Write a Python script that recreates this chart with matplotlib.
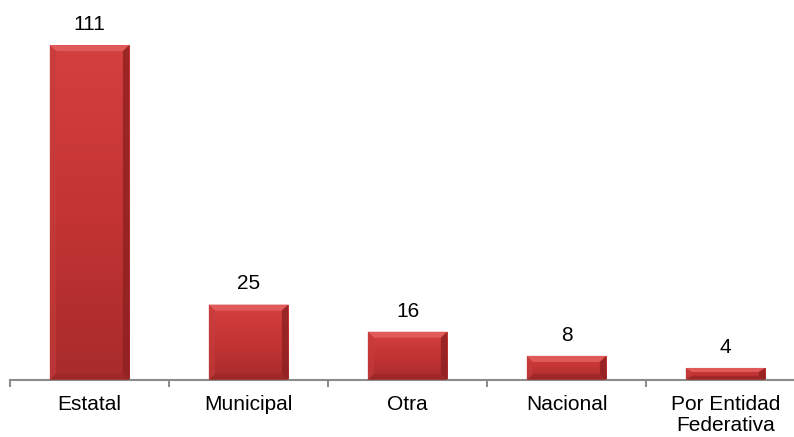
import numpy as np
import matplotlib.pyplot as plt
from matplotlib.patches import Polygon
from matplotlib.colors import LinearSegmentedColormap

plt.rcParams['font.family'] = ['Liberation Sans', 'DejaVu Sans']

# datos
categorias = ['Estatal', 'Municipal', 'Otra', 'Nacional', 'Por Entidad\nFederativa']
valores = [111, 25, 16, 8, 4]

W, H = 794, 437
fig = plt.figure(figsize=(W / 100, H / 100), dpi=100)
# eje x: de 10 px hasta fuera de la figura (como el original)
ax = fig.add_axes([10 / W, 57 / H, 795 / W, 362 / H])
ax.set_xlim(-0.5, 4.5)
ax.set_ylim(0, 120)

x = np.arange(len(categorias))
ancho = 0.5

grad = LinearSegmentedColormap.from_list('rojo', ['#a82b2b', '#c43434', '#d43f3f'])
bars = ax.bar(x, valores, width=ancho, color='#cc3838', linewidth=0, zorder=2)

# gradiente vertical + biselado suave
for b, v in zip(bars, valores):
    x0, w = b.get_x(), b.get_width()
    x1 = x0 + w
    img = ax.imshow(np.linspace(0, 1, 100).reshape(-1, 1), cmap=grad, aspect='auto',
                    origin='lower', extent=[x0, x1, 0, v], zorder=2.1)
    img.set_clip_path(b)
    bx = 0.04
    by = min(2.0, v / 3)
    # borde superior claro
    ax.add_patch(Polygon([[x0, v], [x1, v], [x1 - bx, v - by], [x0 + bx, v - by]],
                         closed=True, facecolor='#e05a5a', edgecolor='none', zorder=3))
    # borde izquierdo
    ax.add_patch(Polygon([[x0, v], [x0 + bx, v - by], [x0 + bx, by], [x0, 0]],
                         closed=True, facecolor='#c53c3c', edgecolor='none', alpha=0.6, zorder=3))
    # borde derecho oscuro
    ax.add_patch(Polygon([[x1, v], [x1 - bx, v - by], [x1 - bx, by], [x1, 0]],
                         closed=True, facecolor='#8e2020', edgecolor='none', alpha=0.8, zorder=3))
    # borde inferior
    ax.add_patch(Polygon([[x0, 0], [x1, 0], [x1 - bx, by], [x0 + bx, by]],
                         closed=True, facecolor='#9c2626', edgecolor='none', alpha=0.8, zorder=3))
    ax.annotate(str(v), (b.get_x() + w / 2, v), xytext=(0, 8), textcoords='offset points',
                ha='center', va='bottom', fontsize=15, color='black')

for s in ['top', 'right', 'left']:
    ax.spines[s].set_visible(False)
ax.spines['bottom'].set_color('#8c8c8c')
ax.spines['bottom'].set_linewidth(1.5)
ax.set_yticks([])

# ticks en los límites de categoría
ax.set_xticks(np.arange(len(categorias) + 1) - 0.5)
ax.set_xticklabels([])
ax.tick_params(axis='x', length=5, width=1.5, color='#8c8c8c', direction='out')
ax.set_xticks(x, minor=True)
ax.set_xticklabels(categorias, minor=True, fontsize=15, linespacing=1.1)
ax.tick_params(axis='x', which='minor', length=0, pad=11)

fig.savefig('out.png', dpi=100)
